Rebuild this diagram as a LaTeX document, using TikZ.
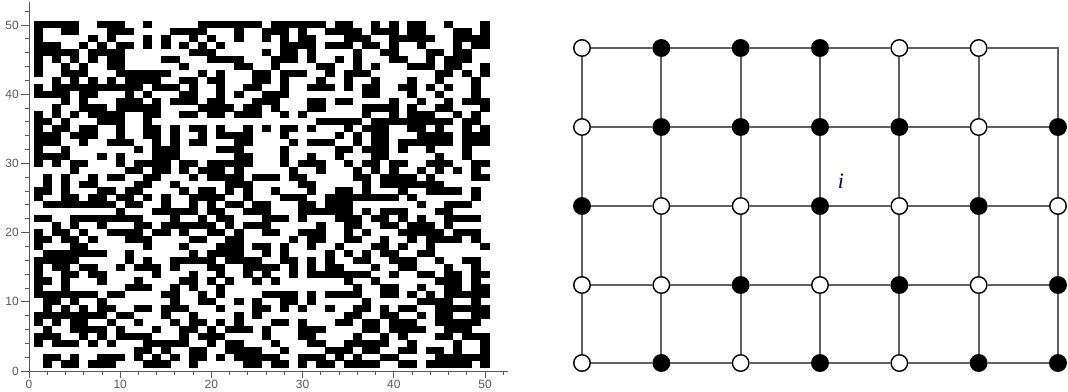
\documentclass[tikz,border=0pt]{standalone}
\usepackage{fontspec}
\setmainfont{Liberation Sans}
\newfontfamily\serifit{Liberation Serif}
\begin{document}
\begin{tikzpicture}[x=1pt,y=-1pt,
  wn/.style={circle,draw=black,line width=1.4pt,fill=white,minimum size=16.5pt,inner sep=0pt},
  bn/.style={circle,draw=black,line width=1.4pt,fill=black,minimum size=16.5pt,inner sep=0pt},
  gl/.style={draw=black!62,line width=1.7pt},
  ax/.style={draw=black!65,line width=0.9pt},
  tl/.style={font=\fontsize{12pt}{12pt}\selectfont,text=black!65,inner sep=0pt}]
\useasboundingbox (0,0) rectangle (1068,391);

% ---------- left: binary lattice ----------
\begin{scope}[shift={(29pt,-371pt)},x=9.12pt,y=6.92pt]
  \pgfmathsetseed{2024}
  \foreach \i in {1,...,50}{%
    \foreach \j in {1,...,50}{%
      \pgfmathrandominteger{\rr}{0}{1}%
      \ifnum\rr=1 \fill[black] (\i-0.5,\j-0.5) rectangle (\i+0.52,\j+0.52);\fi
    }%
  }
  \coordinate (o) at (0,0);
  \coordinate (xe) at (52.5,0);
  \coordinate (ye) at (0,53.3);
  \draw[ax] (o) -- (xe);
  \draw[ax] (o) -- (ye);
  \foreach \t in {0,2,...,52} \draw[ax] (\t,0) -- ++(0pt,-4pt);
  \foreach \t in {0,2,...,52} \draw[ax] (0,\t) -- ++(-4pt,0pt);
  \foreach \t in {0,10,...,50}{%
    \draw[ax] (\t,0) -- ++(0pt,-7pt);
    \draw[ax] (0,\t) -- ++(-8pt,0pt);
    \node[tl,anchor=north] (xl\t) at ([yshift=-9pt]\t,0) {\t};
    \node[tl,anchor=east] (yl\t) at ([xshift=-10pt]0,\t) {\t};
  }
\end{scope}

% ---------- right: lattice graph ----------
\foreach \s [count=\c from 0] in {wn,bn,bn,bn,wn,wn}
  \node[\s] (n-0-\c) at ({582+79.33*\c},48) {};
\coordinate (n-0-6) at (1058,48);
\foreach \s [count=\c from 0] in {wn,bn,bn,bn,bn,wn,bn}
  \node[\s] (n-1-\c) at ({582+79.33*\c},127) {};
\foreach \s [count=\c from 0] in {bn,wn,wn,bn,wn,bn,wn}
  \node[\s] (n-2-\c) at ({582+79.33*\c},206) {};
\foreach \s [count=\c from 0] in {wn,wn,bn,wn,bn,wn,bn}
  \node[\s] (n-3-\c) at ({582+79.33*\c},285) {};
\foreach \s [count=\c from 0] in {wn,bn,wn,bn,wn,bn,bn}
  \node[\s] (n-4-\c) at ({582+79.33*\c},363) {};

% horizontal edges
\foreach \r in {0,...,4}{%
  \foreach \c in {0,...,5}{%
    \pgfmathtruncatemacro{\d}{\c+1}%
    \ifnum\r=0 \ifnum\c=5 \else \draw[gl] (n-\r-\c) -- (n-\r-\d);\fi
    \else \draw[gl] (n-\r-\c) -- (n-\r-\d);\fi
  }%
}
\draw[gl,line join=miter] (n-0-5) -- (n-0-6) -- (n-1-6);
% vertical edges
\foreach \c in {0,...,6}{%
  \foreach \r in {0,...,3}{%
    \pgfmathtruncatemacro{\q}{\r+1}%
    \ifnum\c=6 \ifnum\r=0 \else \draw[gl] (n-\r-\c) -- (n-\q-\c);\fi
    \else \draw[gl] (n-\r-\c) -- (n-\q-\c);\fi
  }%
}

\node[font=\serifit\itshape\fontsize{22pt}{22pt}\selectfont,text=blue!40!black] (lbl) at (841,181) {i};
\end{tikzpicture}
\end{document}
